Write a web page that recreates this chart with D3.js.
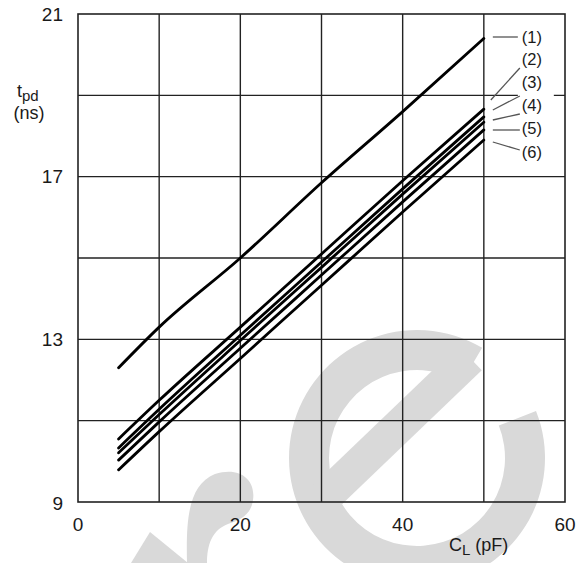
<!DOCTYPE html>
<html>
<head>
<meta charset="utf-8">
<script src="https://cdn.jsdelivr.net/npm/d3@7"></script>
<style>
  body { margin: 0; background: #fff; }
  svg text { font-family: "Liberation Sans", Arial, sans-serif; fill: #1a1a1a; }
</style>
</head>
<body>
<div id="chart"></div>
<script>
    // load capacitance (pF) where each curve is sampled
    var cl = [5, 10, 20, 30, 40, 50];
    // propagation delay (ns), one array per curve
    var tpd1 = [12.3, 13.3, 15.0, 16.85, 18.6, 20.4];
    var tpd2 = [10.55, 11.5, 13.3, 15.1, 16.9, 18.66];
    var tpd3 = [10.33, 11.28, 13.1, 14.9, 16.7, 18.47];
    var tpd4 = [10.21, 11.15, 12.97, 14.77, 16.57, 18.34];
    var tpd5 = [10.03, 10.97, 12.78, 14.58, 16.38, 18.15];
    var tpd6 = [9.79, 10.73, 12.53, 14.33, 16.13, 17.9];
    var seriesNames = ["(1)", "(2)", "(3)", "(4)", "(5)", "(6)"];
    var xTickLabels = [0, 20, 40, 60];
    var yTickLabels = [9, 13, 17, 21];

    var series = [tpd1, tpd2, tpd3, tpd4, tpd5, tpd6];

    var margin = { top: 14, right: 22, bottom: 61, left: 78 },
        width = 587 - margin.left - margin.right,
        height = 563 - margin.top - margin.bottom;

    var svg = d3.select("#chart").append("svg")
        .attr("width", 587)
        .attr("height", 563);

    // watermark behind the plot
    var wm = svg.append("g").attr("fill", "#d9d9d9");
    var arc = d3.arc()
        .innerRadius(88).outerRadius(128)
        .startAngle(Math.PI * 0.38).endAngle(Math.PI * 2.17);
    wm.append("path")
        .attr("d", arc())
        .attr("transform", "translate(417,458)");
    wm.append("line")
        .attr("x1", 470).attr("y1", 358).attr("x2", 325).attr("y2", 497)
        .attr("stroke", "#d9d9d9").attr("stroke-width", 34);
    wm.append("path")
        .attr("d", "M187,563 C186,520 188,485 215,474 C240,466 256,480 253,500 C251,515 240,520 228,524 C212,530 207,545 207,563 Z");
    wm.append("path")
        .attr("d", "M150,532 L188,563 L131,563 Z");

    var g = svg.append("g")
        .attr("transform", "translate(" + margin.left + "," + margin.top + ")");

    var x = d3.scaleLinear().domain([0, 60]).range([0, width]);
    var y = d3.scaleLinear().domain([9, 21]).range([height, 0]);

    // grid
    g.append("g").selectAll("line")
        .data(d3.range(10, 60, 10))
        .enter().append("line")
        .attr("x1", function(d) { return x(d); })
        .attr("x2", function(d) { return x(d); })
        .attr("y1", 0).attr("y2", height)
        .attr("stroke", "#222").attr("stroke-width", 1.4);
    g.append("g").selectAll("line")
        .data(d3.range(11, 21, 2))
        .enter().append("line")
        .attr("x1", 0).attr("x2", width)
        .attr("y1", function(d) { return y(d); })
        .attr("y2", function(d) { return y(d); })
        .attr("stroke", "#222").attr("stroke-width", 1.4);
    g.append("rect")
        .attr("width", width).attr("height", height)
        .attr("fill", "none").attr("stroke", "#222").attr("stroke-width", 1.6);

    // white box behind the curve labels
    g.append("rect")
        .attr("x", x(50) + 34).attr("y", 12)
        .attr("width", 36).attr("height", 150)
        .attr("fill", "#fff");

    var line = d3.line()
        .x(function(d, i) { return x(cl[i]); })
        .y(function(d) { return y(d); })
        .curve(d3.curveMonotoneX);

    g.append("g").selectAll("path")
        .data(series)
        .enter().append("path")
        .attr("d", line)
        .attr("fill", "none")
        .attr("stroke", "#000")
        .attr("stroke-width", 2.8)
        .attr("stroke-linecap", "round");

    // labels with leader lines
    var labelY = [23, 45, 68, 91, 114, 138];
    var leadFrom = [[9, 23], [7, 86], [9, 96], [9, 106], [9, 116], [9, 128]];
    var leadTo = [[34, 23], [36, 54], [36, 82], [36, 100], [36, 116], [36, 136]];
    var labels = g.append("g");
    seriesNames.forEach(function(name, i) {
        labels.append("line")
            .attr("x1", x(50) + leadFrom[i][0]).attr("y1", leadFrom[i][1])
            .attr("x2", x(50) + leadTo[i][0]).attr("y2", leadTo[i][1])
            .attr("stroke", "#555").attr("stroke-width", 1.3);
        labels.append("text")
            .attr("x", x(50) + 38).attr("y", labelY[i])
            .attr("dy", "0.35em")
            .style("font-size", "16.5px")
            .text(name);
    });

    // tick labels
    g.append("g").selectAll("text")
        .data(xTickLabels)
        .enter().append("text")
        .attr("x", function(d) { return x(d); })
        .attr("y", height + 22)
        .attr("dy", "0.35em")
        .attr("text-anchor", "middle")
        .style("font-size", "19px")
        .text(function(d) { return d; });
    g.append("g").selectAll("text")
        .data(yTickLabels)
        .enter().append("text")
        .attr("x", -15)
        .attr("y", function(d) { return y(d) + (d == 9 ? 1 : 0); })
        .attr("dy", "0.35em")
        .attr("text-anchor", "end")
        .style("font-size", "19px")
        .text(function(d) { return d; });

    // axis titles
    var yt = svg.append("text").attr("x", 17).attr("y", 97).style("font-size", "18px");
    yt.append("tspan").text("t");
    yt.append("tspan").attr("dy", 4).style("font-size", "15px").text("pd");
    svg.append("text").attr("x", 29).attr("y", 119)
        .attr("text-anchor", "middle").style("font-size", "18px").text("(ns)");

    var xt = svg.append("text").attr("x", 449).attr("y", 551).style("font-size", "18px");
    xt.append("tspan").text("C");
    xt.append("tspan").attr("dy", 4).style("font-size", "15px").text("L");
    xt.append("tspan").attr("dy", -4).text(" (pF)");
</script>
</body>
</html>
